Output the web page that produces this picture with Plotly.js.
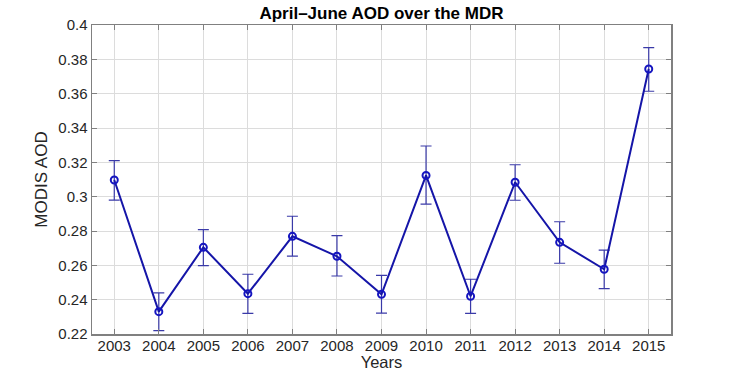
<!DOCTYPE html>
<html>
<head>
<meta charset="utf-8">
<script src="https://cdn.plot.ly/plotly-3.0.1.min.js"></script>
<style>html,body{margin:0;padding:0;background:#fff;}#chart{width:735px;height:379px;}</style>
</head>
<body>
<div id="chart"></div>
<script>
var years = [2003, 2004, 2005, 2006, 2007, 2008, 2009, 2010, 2011, 2012, 2013, 2014, 2015];
var aod = [0.3097, 0.2330, 0.2705, 0.2435, 0.2769, 0.2653, 0.2431, 0.3124, 0.2420, 0.3084, 0.2734, 0.2577, 0.3744];
var errPlus = [0.0113, 0.0110, 0.0103, 0.0113, 0.0117, 0.0120, 0.0111, 0.0171, 0.0099, 0.0102, 0.0120, 0.0112, 0.0124];
var errMinus = [0.0117, 0.0110, 0.0107, 0.0115, 0.0115, 0.0115, 0.0109, 0.0167, 0.0100, 0.0105, 0.0122, 0.0113, 0.0130];
var yTicks = [0.22, 0.24, 0.26, 0.28, 0.3, 0.32, 0.34, 0.36, 0.38, 0.4];
var yTickText = ['0.22', '0.24', '0.26', '0.28', '0.3', '0.32', '0.34', '0.36', '0.38', '0.4'];

var trace = {
  x: years, y: aod, type: 'scatter', mode: 'lines+markers',
  line: {color: '#1515a8', width: 2},
  marker: {symbol: 'circle-open', size: 7, color: '#1515c0', line: {width: 2, color: '#1515c0'}},
  error_y: {type: 'data', symmetric: false, array: errPlus, arrayminus: errMinus,
            color: '#3a3aa8', thickness: 1.2, width: 5.5},
  showlegend: false, cliponaxis: false
};

var font = 'Liberation Sans, Arial, Helvetica, sans-serif';
var layout = {
  width: 735, height: 379,
  margin: {l: 92, r: 64, t: 25, b: 45, pad: 0},
  paper_bgcolor: '#ffffff', plot_bgcolor: '#ffffff',
  font: {family: font, size: 14.5, color: '#262626'},
  title: {text: '<b>April\u2013June AOD over the MDR</b>', font: {family: font, size: 17, color: '#000'},
          x: 0.519, xanchor: 'center', y: 0.966, yanchor: 'middle'},
  xaxis: {
    range: [2002.5, 2015.5], tickvals: years, ticktext: years.map(String),
    showgrid: true, gridcolor: '#dcdcdc', gridwidth: 1,
    showline: true, linecolor: '#808080', linewidth: 1.5, mirror: 'ticks',
    ticks: 'inside', ticklen: 5, tickcolor: '#808080', tickwidth: 1,
    tickfont: {family: font, size: 15, color: '#262626'},
    ticklabelstandoff: -3,
    zeroline: false,
    title: {text: 'Years', font: {family: font, size: 16.5, color: '#262626'}, standoff: 0}
  },
  yaxis: {
    range: [0.22, 0.4], tickvals: yTicks, ticktext: yTickText,
    showgrid: true, gridcolor: '#dcdcdc', gridwidth: 1,
    showline: true, linecolor: '#808080', linewidth: 1.5, mirror: 'ticks',
    ticks: 'inside', ticklen: 5, tickcolor: '#808080', tickwidth: 1,
    tickfont: {family: font, size: 15, color: '#262626'},
    zeroline: false,
    title: {text: 'MODIS AOD', font: {family: font, size: 17, color: '#262626'}, standoff: 6}
  }
};
Plotly.newPlot('chart', [trace], layout, {staticPlot: true, displayModeBar: false});
</script>
</body>
</html>
